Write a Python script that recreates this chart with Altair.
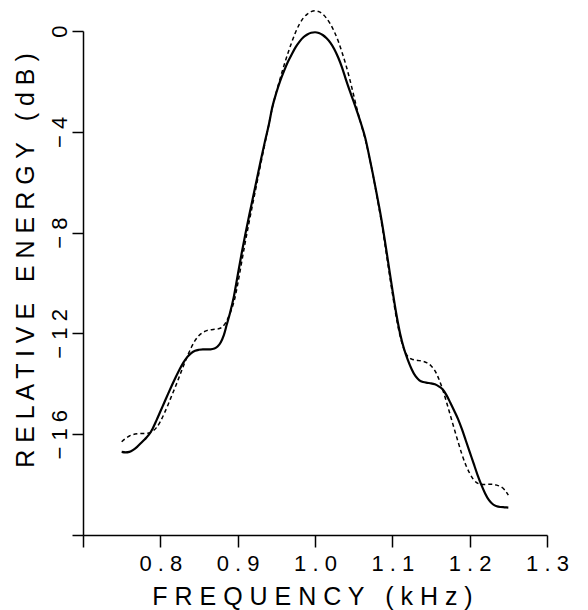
import altair as alt
import pandas as pd

# Solid curve (frequency kHz, relative energy dB)
solid_f = [0.750, 0.755, 0.760, 0.765, 0.770, 0.775, 0.780, 0.785, 0.790, 0.795,
           0.800, 0.805, 0.810, 0.815, 0.820, 0.825, 0.830, 0.835, 0.840, 0.845,
           0.850, 0.855, 0.860, 0.865, 0.870, 0.874, 0.878, 0.882, 0.886, 0.890,
           0.895, 0.900, 0.905, 0.910, 0.915, 0.920, 0.925, 0.930, 0.935, 0.940,
           0.945, 0.950, 0.955, 0.960, 0.965, 0.970, 0.975, 0.980, 0.985, 0.990,
           0.995, 1.000, 1.005, 1.010, 1.015, 1.020, 1.025, 1.030, 1.035, 1.040,
           1.045, 1.050, 1.055, 1.060, 1.065, 1.070, 1.075, 1.080, 1.085, 1.090,
           1.095, 1.100, 1.105, 1.110, 1.115, 1.120, 1.125, 1.130, 1.135, 1.140,
           1.145, 1.150, 1.155, 1.160, 1.165, 1.170, 1.175, 1.180, 1.185, 1.190,
           1.195, 1.200, 1.205, 1.210, 1.215, 1.220, 1.225, 1.230, 1.235, 1.240,
           1.245, 1.250]
solid_db = [-16.70, -16.72, -16.70, -16.62, -16.50, -16.35, -16.20, -16.03, -15.78, -15.45,
            -15.10, -14.75, -14.40, -14.06, -13.73, -13.42, -13.15, -12.93, -12.78, -12.69,
            -12.65, -12.63, -12.63, -12.63, -12.60, -12.52, -12.36, -12.08, -11.64, -11.20,
            -10.55, -9.70, -8.85, -8.05, -7.30, -6.58, -5.85, -5.12, -4.42, -3.76,
            -3.00, -2.45, -1.98, -1.58, -1.22, -0.92, -0.64, -0.42, -0.25, -0.14,
            -0.07, -0.05, -0.08, -0.16, -0.29, -0.47, -0.72, -1.05, -1.45, -1.93,
            -2.38, -2.80, -3.25, -3.72, -4.25, -4.95, -5.70, -6.50, -7.32, -8.25,
            -9.25, -10.25, -11.20, -12.00, -12.60, -13.05, -13.42, -13.70, -13.86, -13.93,
            -13.96, -13.98, -14.02, -14.10, -14.22, -14.45, -14.75, -15.07, -15.40, -15.80,
            -16.25, -16.70, -17.15, -17.60, -18.00, -18.35, -18.62, -18.78, -18.86, -18.89,
            -18.90, -18.91]

# Dashed curve
dash_f = [0.750, 0.755, 0.760, 0.765, 0.770, 0.775, 0.780, 0.785, 0.790, 0.795,
          0.800, 0.805, 0.810, 0.815, 0.820, 0.825, 0.830, 0.835, 0.840, 0.845,
          0.850, 0.855, 0.860, 0.865, 0.870, 0.875, 0.880, 0.884, 0.888, 0.892,
          0.896, 0.900, 0.905, 0.910, 0.915, 0.920, 0.925, 0.930, 0.935, 0.940,
          0.945, 0.950, 0.955, 0.960, 0.965, 0.970, 0.975, 0.980, 0.985, 0.990,
          0.995, 1.000, 1.005, 1.010, 1.015, 1.020, 1.025, 1.030, 1.035, 1.040,
          1.045, 1.050, 1.055, 1.060, 1.065, 1.070, 1.075, 1.080, 1.085, 1.090,
          1.095, 1.100, 1.105, 1.110, 1.115, 1.120, 1.125, 1.130, 1.135, 1.140,
          1.145, 1.150, 1.155, 1.160, 1.165, 1.170, 1.175, 1.180, 1.185, 1.190,
          1.195, 1.200, 1.205, 1.210, 1.215, 1.220, 1.225, 1.230, 1.235, 1.240,
          1.245, 1.250]
dash_db = [-16.30, -16.17, -16.07, -16.01, -15.98, -15.97, -15.97, -15.95, -15.88, -15.74,
           -15.50, -15.18, -14.83, -14.45, -14.08, -13.68, -13.28, -12.90, -12.56, -12.28,
           -12.08, -11.96, -11.89, -11.86, -11.84, -11.82, -11.75, -11.60, -11.36, -11.05,
           -10.65, -10.05, -9.20, -8.35, -7.55, -6.78, -6.02, -5.25, -4.50, -3.76,
           -3.02, -2.42, -1.88, -1.36, -0.88, -0.44, -0.04, 0.28, 0.52, 0.67,
           0.77, 0.80, 0.77, 0.67, 0.50, 0.27, -0.03, -0.40, -0.85, -1.35,
           -1.92, -2.55, -3.18, -3.74, -4.30, -4.97, -5.72, -6.55, -7.42, -8.38,
           -9.40, -10.40, -11.35, -12.10, -12.62, -12.92, -13.02, -13.06, -13.08, -13.11,
           -13.17, -13.28, -13.48, -13.80, -14.22, -14.72, -15.25, -15.78, -16.30, -16.80,
           -17.22, -17.55, -17.80, -17.94, -17.99, -18.00, -17.99, -17.99, -18.02, -18.08,
           -18.20, -18.42]

NB = "\u00a0"
x_ticks = [0.7, 0.8, 0.9, 1.0, 1.1, 1.2, 1.3]
x_tick_labels = ["", "0 . 8", "0 . 9", "1 . 0", "1 . 1", "1 . 2", "1 . 3"]
y_ticks = [-20, -16, -12, -8, -4, 0]
y_tick_labels = ["", "\u2212 1 6", "\u2212 1 2", "\u2212 8", "\u2212 4", "0"]

x_title = "F R E Q U E N C Y" + NB * 3 + "( k H z )"
y_title = "R E L A T I V E" + NB * 3 + "E N E R G Y" + NB * 3 + "( d B )"


def label_expr(values, labels):
    expr = "''"
    for v, lab in zip(values, labels):
        expr = f"abs(datum.value - ({v})) < 1e-6 ? '{lab}' : ({expr})"
    return expr


solid_df = pd.DataFrame({"f": solid_f, "db": solid_db})
dash_df = pd.DataFrame({"f": dash_f, "db": dash_db})

FONT = "Liberation Sans"

x_enc = alt.X(
    "f:Q",
    scale=alt.Scale(domain=[0.7, 1.3], nice=False, zero=False),
    axis=alt.Axis(
        values=x_ticks,
        labelExpr=label_expr(x_ticks, x_tick_labels),
        title=x_title,
        grid=False,
        domainColor="black",
        domainWidth=1.5,
        tickColor="black",
        tickWidth=1.5,
        tickSize=12,
        labelPadding=6,
        labelFont=FONT,
        labelFontSize=22,
        labelColor="black",
        labelFlush=False,
        labelOverlap=False,
        titleFont=FONT,
        titleFontSize=25,
        titleFontWeight="normal",
        titleColor="black",
        titleBaseline="alphabetic",
        titleX=229,
        titleY=69,
    ),
)

y_enc = alt.Y(
    "db:Q",
    scale=alt.Scale(domain=[-20, 0], nice=False, zero=False),
    axis=alt.Axis(
        values=y_ticks,
        labelExpr=label_expr(y_ticks, y_tick_labels),
        title=y_title,
        grid=False,
        domainColor="black",
        domainWidth=1.5,
        tickColor="black",
        tickWidth=1.5,
        tickSize=11,
        labelAngle=-90,
        labelAlign="center",
        labelBaseline="bottom",
        labelPadding=1,
        labelFont=FONT,
        labelFontSize=22,
        labelColor="black",
        labelFlush=False,
        labelOverlap=False,
        titleFont=FONT,
        titleFontSize=25,
        titleFontWeight="normal",
        titleColor="black",
        titleAngle=-90,
        titleAlign="center",
        titleBaseline="alphabetic",
        titleX=-50,
        titleY=229,
    ),
)

solid = alt.Chart(solid_df).mark_line(
    color="black", strokeWidth=2.2, interpolate="monotone", clip=False
).encode(x=x_enc, y=y_enc)

dashed = alt.Chart(dash_df).mark_line(
    color="black", strokeWidth=1.5, strokeDash=[4, 3], interpolate="monotone", clip=False
).encode(x=x_enc, y=y_enc)

chart = (
    alt.layer(solid, dashed)
    .properties(
        width=464,
        height=504,
        autosize=alt.AutoSizeParams(type="none"),
        padding={"left": 75, "top": 23, "right": 25, "bottom": 77},
        background="white",
    )
    .configure_view(stroke=None)
)

chart.save("out.html", embed_options={"renderer": "svg", "actions": False})
